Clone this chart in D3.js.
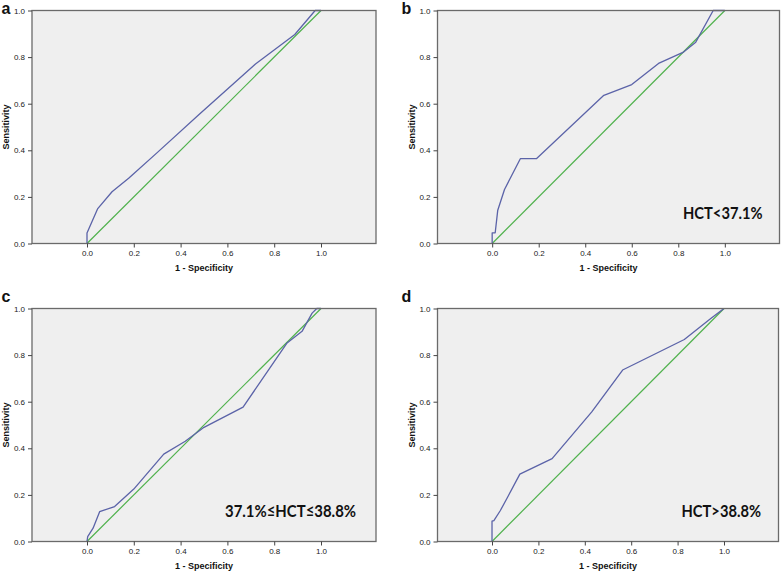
<!DOCTYPE html>
<html><head><meta charset="utf-8">
<script src="https://cdn.jsdelivr.net/npm/d3@7"></script>
<style>
html,body{margin:0;padding:0;background:#fff;}
svg{display:block;}
</style></head>
<body>
<svg id="chart" width="784" height="574"></svg>
<script>
// ---- data ----
const panelLetters = ["a", "b", "c", "d"];
const panelNotes = ["", "HCT<37.1%", "37.1%≤HCT≤38.8%", "HCT>38.8%"];
const tickValues = [0, 0.2, 0.4, 0.6, 0.8, 1.0];
const xLabel = "1 - Specificity";
const yLabel = "Sensitivity";

// ROC curves: [1 - specificity, sensitivity]
const rocA = [[0,0],[0,0.045],[0.046,0.15],[0.107,0.222],[0.178,0.28],[0.3,0.39],[0.48,0.555],[0.72,0.77],[0.888,0.897],[0.975,1],[1,1]];
const rocB = [[0,0],[0,0.046],[0.013,0.046],[0.024,0.143],[0.053,0.232],[0.121,0.364],[0.19,0.364],[0.48,0.636],[0.6,0.682],[0.715,0.773],[0.82,0.82],[0.875,0.864],[0.95,1],[1,1]];
const rocC = [[0,0],[0.003,0.021],[0.026,0.057],[0.054,0.128],[0.118,0.15],[0.2,0.225],[0.328,0.375],[0.42,0.43],[0.5,0.49],[0.667,0.577],[0.855,0.852],[0.919,0.902],[0.962,0.98],[0.982,1],[1,1]];
const rocD = [[0,0],[0,0.087],[0.008,0.09],[0.036,0.133],[0.067,0.19],[0.12,0.289],[0.259,0.356],[0.43,0.556],[0.563,0.736],[0.829,0.867],[0.943,0.957],[1,1]];
const reference = [[0,0],[1,1]];
const rocCurves = [rocA, rocB, rocC, rocD];

// ---- layout ----
const boxes = [
  {x: 32,    y: 10.5,  w: 344, h: 233, lx: 1.5,   ly: 13.5, note: null},
  {x: 437.5, y: 10.5,  w: 342, h: 233, lx: 401.5, ly: 13.5, note: {x: 683,   y: 218.5, w: 79.5}},
  {x: 32,    y: 308.5, w: 344, h: 233, lx: 1.5,   ly: 302,  note: {x: 225,   y: 516.5, w: 131}},
  {x: 437.5, y: 308.5, w: 341, h: 233, lx: 401.5, ly: 302,  note: {x: 681.5, y: 517,   w: 79.5}}
];
const xDomain = [-0.235, 1.235];

const svg = d3.select("#chart");

boxes.forEach((b, i) => {
  const g = svg.append("g");
  const x = d3.scaleLinear().domain(xDomain).range([b.x, b.x + b.w]);
  const y = d3.scaleLinear().domain([0, 1]).range([b.y + b.h, b.y]);

  g.append("rect").attr("x", b.x).attr("y", b.y).attr("width", b.w).attr("height", b.h)
    .attr("fill", "#efefef");

  const line = d3.line().x(d => x(d[0])).y(d => y(d[1]));
  g.append("path").datum(reference).attr("d", line)
    .attr("fill", "none").attr("stroke", "#4fb14c").attr("stroke-width", 1.2);
  g.append("path").datum(rocCurves[i]).attr("d", line)
    .attr("fill", "none").attr("stroke", "#5b63a8").attr("stroke-width", 1.3)
    .attr("stroke-linejoin", "round");

  g.append("rect").attr("x", b.x).attr("y", b.y).attr("width", b.w).attr("height", b.h)
    .attr("fill", "none").attr("stroke", "#6a6a6a").attr("stroke-width", 1.3);

  const xAxis = g.append("g").attr("transform", `translate(0,${b.y + b.h})`)
    .call(d3.axisBottom(x).tickValues(tickValues).tickFormat(d3.format(".1f")).tickSize(4).tickSizeOuter(0).tickPadding(3));
  const yAxis = g.append("g").attr("transform", `translate(${b.x},0)`)
    .call(d3.axisLeft(y).tickValues(tickValues).tickFormat(d3.format(".1f")).tickSize(4).tickSizeOuter(0).tickPadding(3));
  [xAxis, yAxis].forEach(ax => {
    ax.select(".domain").remove();
    ax.selectAll("line").attr("stroke", "#444");
    ax.selectAll("text").attr("font-family", "Liberation Sans, Arial, sans-serif")
      .attr("font-size", 8).attr("fill", "#222");
  });

  g.append("text").attr("x", x(0.5)).attr("y", b.y + b.h + 27.5)
    .attr("text-anchor", "middle").attr("font-family", "Liberation Sans, Arial, sans-serif")
    .attr("font-size", 9).attr("font-weight", "bold").attr("fill", "#111").text(xLabel);

  g.append("text").attr("transform", `translate(${b.x - 23},${y(0.5)}) rotate(-90)`)
    .attr("text-anchor", "middle").attr("font-family", "Liberation Sans, Arial, sans-serif")
    .attr("font-size", 9).attr("font-weight", "bold").attr("fill", "#111").text(yLabel);

  g.append("text").attr("x", b.lx).attr("y", b.ly)
    .attr("font-family", "Liberation Sans, Arial, sans-serif")
    .attr("font-size", 16).attr("font-weight", "bold").attr("fill", "#111").text(panelLetters[i]);

  if (b.note) {
    g.append("text").attr("x", b.note.x).attr("y", b.note.y)
      .attr("font-family", "Lato, Open Sans, sans-serif").attr("font-weight", "bold")
      .attr("font-size", 17).attr("fill", "#111")
      .attr("textLength", b.note.w).attr("lengthAdjust", "spacingAndGlyphs")
      .text(panelNotes[i]);
  }
});
</script>
</body></html>
